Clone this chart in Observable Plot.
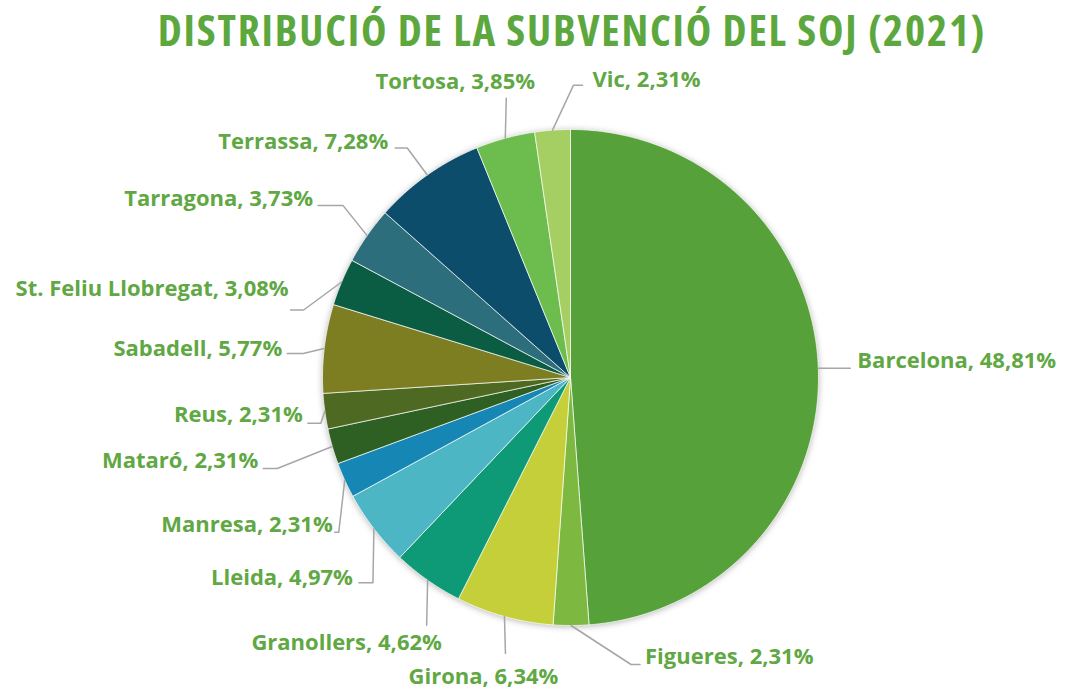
<!DOCTYPE html>
<html><head><meta charset="utf-8">
<script src="https://cdn.jsdelivr.net/npm/d3@7"></script>
<script src="https://cdn.jsdelivr.net/npm/@observablehq/plot@0.6"></script>
<style>
body{margin:0;background:#fff;}
#title{height:60px;line-height:60px;text-align:center;font-family:'Open Sans',sans-serif;font-weight:700;font-size:43px;font-stretch:75%;letter-spacing:1.8px;color:#5DA83E;white-space:nowrap;padding-left:77px;}
#chart svg{overflow:visible;display:block}
</style>
</head><body>
<div id="title">DISTRIBUCIÓ DE LA SUBVENCIÓ DEL SOJ (2021)</div>
<div id="chart"></div>
<script>
// ---- data ----
const cities = ["Barcelona","Figueres","Girona","Granollers","Lleida","Manresa","Mataró","Reus","Sabadell","St. Feliu Llobregat","Tarragona","Terrassa","Tortosa","Vic"];
const shares = [48.81,2.31,6.34,4.62,4.97,2.31,2.31,2.31,5.77,3.08,3.73,7.28,3.85,2.31];
const sliceColors = ["#57A13A","#7DB841","#C5CF3A","#0E9A76","#4CB6C5","#1686B4","#2E5F23","#4E6A22","#7D7E22","#0A5C43","#2C6E7B","#0B4D6B","#6CBD4D","#A5CF62"];

// ---- layout (label placement offsets from each slice's outer mid-point, px) ----
const labelLayout = {
  "Barcelona":           {elbow:[32,0],   stub:0,   text:[39,-7],   anchor:"start"},
  "Figueres":            {elbow:[60,39],  stub:9,   text:[74,31],   anchor:"start"},
  "Girona":              {elbow:[1,37],   stub:0,   text:[-21,60],  anchor:"middle"},
  "Granollers":          {elbow:[-1,45],  stub:0,   text:[-81,63],  anchor:"middle"},
  "Lleida":              {elbow:[-1,54],  stub:-14, text:[-21,49],  anchor:"end"},
  "Manresa":             {elbow:[-6,52],  stub:-4,  text:[-12,45],  anchor:"end"},
  "Mataró":              {elbow:[-55,22], stub:-14, text:[-74,14],  anchor:"end"},
  "Reus":                {elbow:[-4,12],  stub:-13, text:[-22,4],   anchor:"end"},
  "Sabadell":            {elbow:[-21,5],  stub:-16, text:[-42,0],   anchor:"end"},
  "St. Feliu Llobregat": {elbow:[-38,28], stub:-13, text:[-53,6.5], anchor:"end"},
  "Tarragona":           {elbow:[-24,-30],stub:-25, text:[-54,-37], anchor:"end"},
  "Terrassa":            {elbow:[-20,-27],stub:-12, text:[-39,-33], anchor:"end"},
  "Tortosa":             {elbow:[1,-40],  stub:0,   text:[-50,-56], anchor:"middle"},
  "Vic":                 {elbow:[21,-45], stub:9,   text:[40,-50],  anchor:"start"}
};
const R = 248;
const W = 1067, H = 630;
const center = {x: 570, y: 317}; // within the plot svg

// ---- build ----
const rows = cities.map((c,i)=>({city:c, share:shares[i], color:sliceColors[i]}));
const arcs = d3.pie().sort(null).value(d=>d.share).startAngle(0).endAngle(2*Math.PI)(rows);

const polys = [];
const labels = [];
const leaders = [];
arcs.forEach(a => {
  const name = a.data.city;
  polys.push({city:name, x:0, y:0});
  const n = Math.max(2, Math.ceil((a.endAngle - a.startAngle)/(Math.PI/360)));
  for (let k=0;k<=n;k++){
    const t = a.startAngle + (a.endAngle-a.startAngle)*k/n;
    polys.push({city:name, x:R*Math.sin(t), y:-R*Math.cos(t)});
  }
  polys.push({city:name, x:0, y:0});
  const m = (a.startAngle + a.endAngle)/2;
  const px = R*Math.sin(m), py = -R*Math.cos(m);
  const L = labelLayout[name];
  const ex = px + L.elbow[0], ey = py + L.elbow[1];
  leaders.push({city:name, x:px, y:py});
  leaders.push({city:name, x:ex, y:ey});
  leaders.push({city:name, x:ex+L.stub, y:ey});
  labels.push({city:name, x:px+L.text[0], y:py+L.text[1], anchor:L.anchor,
    label: `${name}, ${a.data.share.toFixed(2).replace(".",",")}%`});
});

const textOpts = {x:"x", y:"y", text:"label", fill:"#5FA843", fontSize:22, fontWeight:700, lineAnchor:"middle"};

const chart = Plot.plot({
  width: W, height: H,
  margin: 0,
  style: {fontFamily: "'Open Sans', sans-serif", background: "transparent"},
  x: {domain:[-center.x, W-center.x], range:[0,W], axis:null},
  y: {domain:[-center.y, H-center.y], range:[0,H], axis:null},
  color: {domain: cities, range: sliceColors},
  marks: [
    Plot.line(polys, {x:"x", y:"y", z:"city", fill:"city", stroke:"#ffffff", strokeWidth:0.7, curve:"linear"}),
    Plot.line(leaders, {x:"x", y:"y", z:"city", stroke:"#A6A6A6", strokeWidth:1.5, curve:"linear"}),
    Plot.text(labels.filter(d=>d.anchor==="start"), {...textOpts, textAnchor:"start"}),
    Plot.text(labels.filter(d=>d.anchor==="middle"), {...textOpts, textAnchor:"middle"}),
    Plot.text(labels.filter(d=>d.anchor==="end"), {...textOpts, textAnchor:"end"})
  ]
});
const firstLine = chart.querySelector('g[aria-label="line"]');
if (firstLine) firstLine.style.filter = "drop-shadow(0px 1px 3px rgba(0,0,0,0.28))";
document.getElementById("chart").appendChild(chart);
</script>
</body></html>
